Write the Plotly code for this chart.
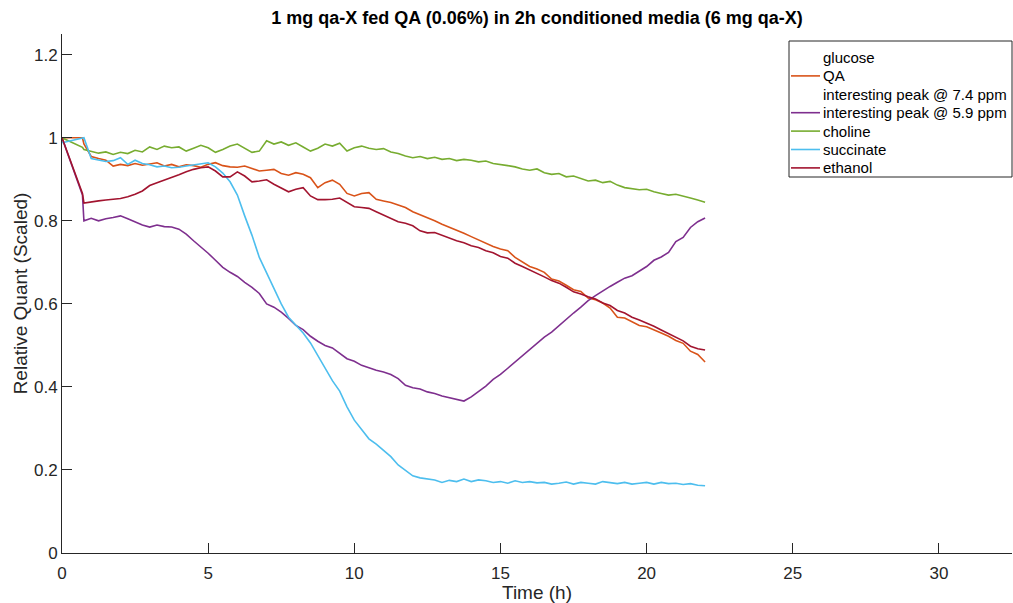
import plotly.graph_objects as go

title_text = "1 mg qa-X fed QA (0.06%) in 2h conditioned media (6 mg qa-X)"
x_label = "Time (h)"
y_label = "Relative Quant (Scaled)"

time_h = [0, 0.7, 0.75,
          1.0, 1.25, 1.5, 1.75, 2.0, 2.25, 2.5, 2.75, 3.0, 3.25, 3.5, 3.75,
          4.0, 4.25, 4.5, 4.75, 5.0, 5.25, 5.5, 5.75, 6.0, 6.25, 6.5, 6.75,
          7.0, 7.25, 7.5, 7.75, 8.0, 8.25, 8.5, 8.75, 9.0, 9.25, 9.5, 9.75,
          10.0, 10.25, 10.5, 10.75, 11.0, 11.25, 11.5, 11.75, 12.0, 12.25, 12.5, 12.75,
          13.0, 13.25, 13.5, 13.75, 14.0, 14.25, 14.5, 14.75, 15.0, 15.25, 15.5, 15.75,
          16.0, 16.25, 16.5, 16.75, 17.0, 17.25, 17.5, 17.75, 18.0, 18.25, 18.5, 18.75,
          19.0, 19.25, 19.5, 19.75, 20.0, 20.25, 20.5, 20.75, 21.0, 21.25, 21.5, 21.75,
          22.0]

# glucose and the 7.4 ppm peak show no visible line in the reference
glucose = [None]
peak_74 = [None]

qa = [1.0, 1.0, 0.985,
      0.955, 0.950, 0.946, 0.932,
      0.936, 0.933, 0.938, 0.934,
      0.937, 0.940, 0.932, 0.936,
      0.930, 0.935, 0.933, 0.929,
      0.936, 0.940, 0.933, 0.930,
      0.929, 0.932, 0.926, 0.920,
      0.922, 0.924, 0.914, 0.910,
      0.916, 0.912, 0.904, 0.880,
      0.892, 0.898, 0.888, 0.866,
      0.860, 0.866, 0.868, 0.852,
      0.848, 0.844, 0.838, 0.832,
      0.822, 0.815, 0.808, 0.800,
      0.792, 0.785, 0.778, 0.770,
      0.762, 0.754, 0.746, 0.738,
      0.732, 0.728, 0.712, 0.700,
      0.690, 0.684, 0.676, 0.660,
      0.655, 0.645, 0.634, 0.630,
      0.614, 0.610, 0.602, 0.590,
      0.568, 0.566, 0.556, 0.548,
      0.545, 0.538, 0.530, 0.522,
      0.512, 0.505, 0.486, 0.478,
      0.460]

peak_59 = [1.0, 0.862, 0.800,
           0.806, 0.800, 0.805, 0.808,
           0.812, 0.805, 0.798, 0.790,
           0.785, 0.790, 0.786, 0.785,
           0.780, 0.768, 0.752, 0.738,
           0.722, 0.705, 0.688, 0.676,
           0.666, 0.652, 0.640, 0.625,
           0.600, 0.592, 0.580, 0.565,
           0.548, 0.538, 0.522, 0.510,
           0.500, 0.494, 0.482, 0.468,
           0.462, 0.452, 0.446, 0.440,
           0.436, 0.430, 0.420, 0.404,
           0.398, 0.395, 0.388, 0.384,
           0.378, 0.374, 0.370, 0.366,
           0.376, 0.388, 0.402, 0.418,
           0.430, 0.445, 0.460, 0.476,
           0.490, 0.506, 0.520, 0.532,
           0.548, 0.562, 0.578, 0.592,
           0.608, 0.620, 0.632, 0.642,
           0.652, 0.662, 0.668, 0.680,
           0.690, 0.705, 0.713, 0.724,
           0.750, 0.760, 0.784, 0.798,
           0.807]

choline = [1.0, 0.977, 0.972,
           0.968, 0.963, 0.966, 0.960,
           0.965, 0.962, 0.970, 0.966,
           0.978, 0.972, 0.980, 0.976,
           0.978, 0.968, 0.975, 0.982,
           0.976, 0.965, 0.972, 0.980,
           0.985, 0.975, 0.965, 0.968,
           0.993, 0.985, 0.990, 0.982,
           0.988, 0.978, 0.968, 0.975,
           0.985, 0.980, 0.987, 0.968,
           0.976, 0.980, 0.975, 0.972,
           0.974, 0.966, 0.962, 0.956,
           0.952, 0.955, 0.950, 0.953,
           0.948, 0.950, 0.945, 0.948,
           0.946, 0.942, 0.944, 0.938,
           0.936, 0.933, 0.930, 0.925,
           0.922, 0.925, 0.916, 0.912,
           0.914, 0.906, 0.908, 0.902,
           0.896, 0.898, 0.892, 0.895,
           0.886, 0.880, 0.878, 0.875,
           0.876, 0.870, 0.866, 0.862,
           0.864, 0.860, 0.855, 0.850,
           0.845]

succinate = [0.988, 0.998, 1.0,
             0.950, 0.947, 0.943, 0.945,
             0.952, 0.936, 0.946, 0.938,
             0.935, 0.930, 0.932, 0.928,
             0.929, 0.932, 0.935, 0.938,
             0.940, 0.930, 0.915, 0.894,
             0.862, 0.812, 0.765, 0.712,
             0.675, 0.640, 0.600, 0.568,
             0.550, 0.530, 0.506, 0.475,
             0.443, 0.415, 0.390, 0.352,
             0.320, 0.298, 0.275, 0.262,
             0.248, 0.232, 0.212, 0.198,
             0.186, 0.181, 0.179, 0.176,
             0.170, 0.175, 0.172, 0.178,
             0.172, 0.176, 0.174, 0.170,
             0.172, 0.168, 0.174, 0.170,
             0.172, 0.169, 0.170, 0.166,
             0.168, 0.171, 0.166, 0.170,
             0.168, 0.166, 0.172, 0.170,
             0.167, 0.170, 0.166, 0.168,
             0.170, 0.166, 0.170, 0.167,
             0.168, 0.165, 0.167, 0.163,
             0.162]

ethanol = [1.0, 0.866, 0.843,
           0.846, 0.848, 0.850, 0.852,
           0.854, 0.858, 0.864, 0.872,
           0.885, 0.892, 0.898, 0.905,
           0.911, 0.918, 0.924, 0.928,
           0.930, 0.920, 0.906, 0.906,
           0.918, 0.908, 0.894, 0.896,
           0.899, 0.888, 0.878, 0.870,
           0.876, 0.880, 0.860, 0.851,
           0.851, 0.852, 0.855, 0.845,
           0.834, 0.832, 0.830, 0.822,
           0.814, 0.806, 0.798, 0.794,
           0.788, 0.776, 0.771, 0.772,
           0.765, 0.759, 0.752, 0.747,
           0.740, 0.736, 0.728, 0.723,
           0.714, 0.710, 0.698, 0.690,
           0.682, 0.674, 0.665, 0.656,
           0.650, 0.640, 0.629, 0.624,
           0.617, 0.612, 0.602, 0.596,
           0.584, 0.578, 0.568, 0.561,
           0.554, 0.546, 0.537, 0.528,
           0.520, 0.511, 0.498, 0.492,
           0.489]

series_names = ["glucose", "QA", "interesting peak @ 7.4 ppm", "interesting peak @ 5.9 ppm",
                "choline", "succinate", "ethanol"]
series_values = [glucose, qa, peak_74, peak_59, choline, succinate, ethanol]
series_colors = ["rgba(255,255,255,0)", "#D95319", "rgba(255,255,255,0)", "#7E2F8E",
                 "#77AC30", "#4DBEEE", "#A2142F"]

x_ticks = [0, 5, 10, 15, 20, 25, 30]
y_ticks = [0, 0.2, 0.4, 0.6, 0.8, 1.0, 1.2]
y_tick_labels = ["0", "0.2", "0.4", "0.6", "0.8", "1", "1.2"]

FONT = "Liberation Sans, Arial, Helvetica, sans-serif"
INK = "#262626"

# plot-area geometry in pixels (used for the hand-built MATLAB-style legend)
W, H = 1013, 603
ML, MR, MT, MB = 62, 1, 34, 50
PW, PH = W - ML - MR, H - MT - MB


def px_x(px):
    return (px - ML) / PW


def px_y(py):
    return (H - MB - py) / PH


fig = go.Figure()
for name, vals, col in zip(series_names, series_values, series_colors):
    fig.add_trace(go.Scatter(
        x=time_h[:len(vals)], y=vals, name=name, mode="lines",
        line=dict(color=col, width=1.6), hoverinfo="skip", showlegend=False))

# legend box
shapes = [dict(type="rect", xref="paper", yref="paper",
               x0=px_x(789), x1=px_x(1012), y0=px_y(177), y1=px_y(41),
               line=dict(color=INK, width=1), fillcolor="white", layer="above")]
annotations = []
row0, row_step = 57.5, 18.4
for i, (name, col) in enumerate(zip(series_names, series_colors)):
    yy = px_y(row0 + i * row_step)
    shapes.append(dict(type="line", xref="paper", yref="paper",
                       x0=px_x(791), x1=px_x(820), y0=yy, y1=yy,
                       line=dict(color=col, width=1.6), layer="above"))
    annotations.append(dict(text=name, xref="paper", yref="paper", x=px_x(821), y=yy,
                            xanchor="left", yanchor="middle", showarrow=False,
                            font=dict(family=FONT, size=15, color="#000000")))

fig.update_layout(
    width=W, height=H,
    margin=dict(l=ML, r=MR, t=MT, b=MB),
    paper_bgcolor="white", plot_bgcolor="white",
    font=dict(family=FONT, color=INK, size=17),
    title=dict(text="<b>" + title_text + "</b>", x=0.5, xref="paper", xanchor="center",
               y=1 - 18 / H, yref="container", yanchor="middle",
               font=dict(family=FONT, size=18, color="#000000")),
    showlegend=False,
    shapes=shapes,
    annotations=annotations,
)
fig.update_xaxes(
    range=[0, 32.5], tickvals=x_ticks, ticks="inside", ticklen=10, tickwidth=1,
    tickcolor=INK, showline=True, linecolor=INK, linewidth=1, mirror=False,
    showgrid=False, zeroline=False, ticklabelstandoff=5,
    title=dict(text=x_label, font=dict(size=19, color=INK), standoff=6),
    tickfont=dict(size=17, color=INK))
fig.update_yaxes(
    range=[0, 1.25], tickvals=y_ticks, ticktext=y_tick_labels, ticks="inside", ticklen=10,
    tickwidth=1, tickcolor=INK, showline=True, linecolor=INK, linewidth=1, mirror=False,
    showgrid=False, zeroline=False,
    title=dict(text=y_label, font=dict(size=19, color=INK), standoff=1),
    tickfont=dict(size=17, color=INK))

fig.write_html("out.html", config={"displayModeBar": False})
